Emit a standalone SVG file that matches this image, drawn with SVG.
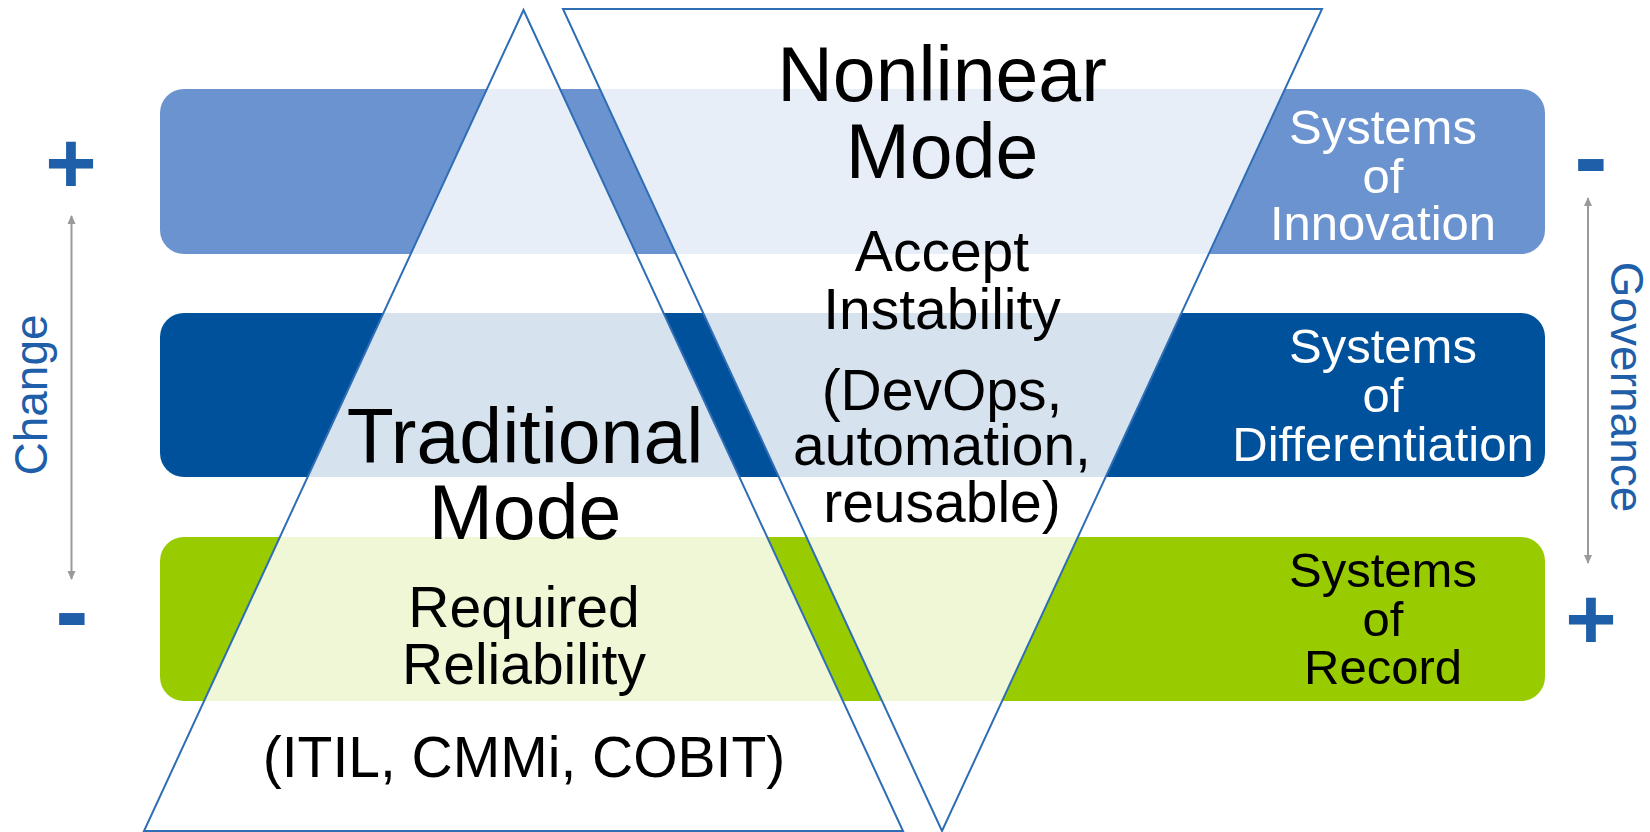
<svg xmlns="http://www.w3.org/2000/svg" width="1650" height="832" viewBox="0 0 1650 832">
<defs>
<style>
.t{font-family:"Liberation Sans",Arial,sans-serif;text-anchor:middle;fill:#000}
.big{font-size:77px}
.med{font-size:57px}
.sys{font-size:49px}
.w{fill:#fff}
.side{font-family:"Liberation Sans",Arial,sans-serif;font-size:46px;fill:#1f5ea8;text-anchor:middle}
.sign{font-family:"Liberation Sans",Arial,sans-serif;font-weight:bold;fill:#1f5ea8;text-anchor:middle}
.tri{fill:#fff;fill-opacity:0.84;stroke:#2f6db5;stroke-width:2}
.arr{stroke:#9a9a9a;stroke-width:2;fill:none}
</style>
<marker id="ah" viewBox="0 0 10 10" refX="9" refY="5" markerWidth="9" markerHeight="9" orient="auto-start-reverse" markerUnits="userSpaceOnUse">
<path d="M0,0.5 L10,5 L0,9.5 Z" fill="#9a9a9a"/>
</marker>
</defs>
<rect width="1650" height="832" fill="#fff"/>
<g id="band-innovation"><rect x="160" y="89" width="1385" height="165" rx="24" fill="#6b93d0"/></g>
<g id="band-differentiation"><rect x="160" y="313" width="1385" height="164" rx="24" fill="#00519c"/></g>
<g id="band-record"><rect x="160" y="537" width="1385" height="164" rx="24" fill="#99cc00"/></g>
<g id="traditional-mode">
<polygon class="tri" points="523.5,10 903,831 144,831"/>
<text class="t big" x="525" y="463">Traditional</text>
<text class="t big" x="525" y="539">Mode</text>
<text class="t med" x="524" y="627">Required</text>
<text class="t med" x="524" y="684">Reliability</text>
<text class="t med" x="524" y="777">(ITIL, CMMi, COBIT)</text>
</g>
<g id="nonlinear-mode">
<polygon class="tri" points="563,9 1322,9 942,831"/>
<text class="t big" x="942" y="101">Nonlinear</text>
<text class="t big" x="942" y="178">Mode</text>
<text class="t med" x="942" y="271">Accept</text>
<text class="t med" x="942" y="329">Instability</text>
<text class="t med" x="942" y="410">(DevOps,</text>
<text class="t med" x="942" y="465">automation,</text>
<text class="t med" x="942" y="522">reusable)</text>
</g>
<g id="systems-innovation">
<text class="t sys w" x="1383" y="144">Systems</text>
<text class="t sys w" x="1383" y="193">of</text>
<text class="t sys w" x="1383" y="240">Innovation</text>
</g>
<g id="systems-differentiation">
<text class="t sys w" x="1383" y="363">Systems</text>
<text class="t sys w" x="1383" y="412">of</text>
<text class="t sys w" x="1383" y="461">Differentiation</text>
</g>
<g id="systems-record">
<text class="t sys" x="1383" y="587">Systems</text>
<text class="t sys" x="1383" y="636">of</text>
<text class="t sys" x="1383" y="684">Record</text>
</g>
<g id="change-axis">
<text class="sign" x="71" y="193" font-size="88">+</text>
<text class="sign" x="72" y="645" font-size="100">-</text>
<text class="side" transform="translate(47,395) rotate(-90)">Change</text>
</g>
<g id="governance-axis">
<text class="sign" x="1591" y="191" font-size="100">-</text>
<text class="sign" x="1591" y="649" font-size="88">+</text>
<text class="side" transform="translate(1611,387) rotate(90)">Governance</text>
</g>
<g id="connectors">
<line class="arr" x1="71.5" y1="579" x2="71.5" y2="216" marker-start="url(#ah)" marker-end="url(#ah)"/>
<line class="arr" x1="1588" y1="563" x2="1588" y2="198" marker-start="url(#ah)" marker-end="url(#ah)"/>
</g>
</svg>
